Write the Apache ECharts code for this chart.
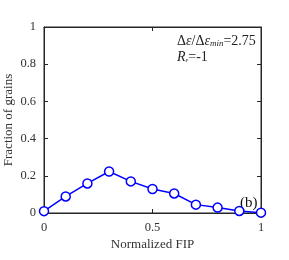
<!DOCTYPE html>
<html><head><meta charset="utf-8">
<script src="https://cdn.jsdelivr.net/npm/echarts@6/dist/echarts.min.js"></script>
<style>html,body{margin:0;padding:0;background:#fff}#c{width:289px;height:260px}</style>
</head><body><div id="c"></div>
<script>
const fip = [0, 0.1, 0.2, 0.3, 0.4, 0.5, 0.6, 0.7, 0.8, 0.9, 1.0];
const fraction = [0.01, 0.089, 0.159, 0.223, 0.17, 0.129, 0.105, 0.045, 0.029, 0.011, 0.002];
const xTicks = [0, 0.5, 1];
const yTicks = [0, 0.2, 0.4, 0.6, 0.8, 1];

const font = 'Liberation Serif, Times New Roman, serif';
const axCol = '#262626';
const fmt = v => String(+v.toFixed(2));
const chart = echarts.init(document.getElementById('c'), null, {renderer: 'canvas'});
function mkAxis(extra) {
  return Object.assign({
    type: 'value', min: 0, max: 1,
    axisLine: {show: true, onZero: false, lineStyle: {color: axCol, width: 1}},
    axisTick: {show: true, inside: true, length: 4, lineStyle: {color: axCol}},
    splitLine: {show: false},
    axisLabel: {show: true, fontFamily: font, fontSize: 12.5, color: '#333', formatter: fmt}
  }, extra);
}
const pts = fip.map((x, i) => [x, fraction[i]]);
chart.setOption({
  animation: false,
  grid: {left: 44, right: 28, top: 27, bottom: 47, containLabel: false, outerBoundsMode: 'none',
         show: true, borderColor: axCol, borderWidth: 1, backgroundColor: 'transparent'},
  xAxis: [
    mkAxis({interval: 0.5, position: 'bottom',
      name: 'Normalized FIP', nameLocation: 'middle', nameGap: 25, nameMoveOverlap: false,
      nameTextStyle: {fontFamily: font, fontSize: 13, color: '#333'}}),
    mkAxis({interval: 0.5, position: 'top', axisLabel: {show: false}})
  ],
  yAxis: [
    mkAxis({interval: 0.2, position: 'left',
      name: 'Fraction of grains', nameLocation: 'middle', nameGap: 29, nameMoveOverlap: false,
      nameTextStyle: {fontFamily: font, fontSize: 13, color: '#333'}}),
    mkAxis({interval: 0.2, position: 'right', axisLabel: {show: false}})
  ],
  series: [{
    type: 'line',
    data: pts,
    symbol: 'circle', symbolSize: 9, showSymbol: true,
    lineStyle: {color: '#0000ff', width: 1.5},
    itemStyle: {color: '#ffffff', borderColor: '#0000ff', borderWidth: 1.5},
    clip: false, z: 5
  }, {
    type: 'line', xAxisIndex: 1, yAxisIndex: 1, data: pts, silent: true,
    symbol: 'none', lineStyle: {opacity: 0}, z: 1
  }],
  graphic: [
    {type: 'text', left: 177, top: 34, style: {
      text: 'Δ{i|ε}/Δ{i|ε}{s|min}=2.75', font: '14px ' + font, fill: '#222',
      rich: {i: {fontStyle: 'italic', fontFamily: font, fontSize: 14}, s: {fontStyle: 'italic', fontFamily: font, fontSize: 9, padding: [5,0,0,0]}}}},
    {type: 'text', left: 177, top: 50, style: {
      text: '{i|R}{s|ε}=-1', font: '14px ' + font, fill: '#222',
      rich: {i: {fontStyle: 'italic', fontFamily: font, fontSize: 14}, s: {fontStyle: 'italic', fontFamily: font, fontSize: 7, padding: [6,0,0,0]}}}},
    {type: 'text', left: 240, top: 196, style: {text: '(b)', font: '15px ' + font, fill: '#111'}}
  ]
});
</script></body></html>
